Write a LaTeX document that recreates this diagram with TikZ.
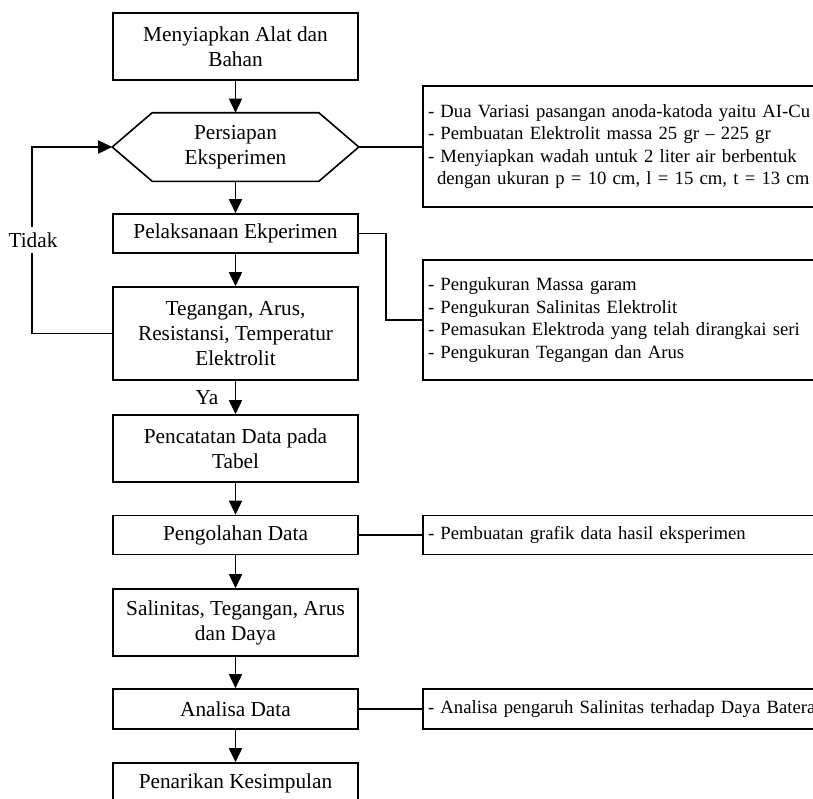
\documentclass[tikz,border=0pt]{standalone}
\usepackage{fontspec}
\setmainfont{Liberation Serif}
\usetikzlibrary{arrows.meta}
\begin{document}
\begin{tikzpicture}[x=1pt,y=-1pt,
  mainbox/.style={draw,line width=1.6pt,minimum width=245pt,inner sep=0pt,align=center,
    font=\fontsize{21.3}{25}\selectfont},
  sidebox/.style={draw,line width=1.6pt,inner xsep=5pt,inner ysep=0pt,text width=417pt,align=left,
    font=\fontsize{18.7}{22.5}\selectfont},
  flow/.style={line width=1.6pt,-{Triangle[length=14pt,width=13pt]}},
  link/.style={line width=1.6pt},
  lbl/.style={inner xsep=1pt,inner ysep=0pt,font=\fontsize{21.3}{25}\selectfont}]
\useasboundingbox (0,0) rectangle (813,798);
\clip (0,0) rectangle (813,798);
% main column
\node[mainbox,minimum height=67pt] (alat) at (235.5,46.5) {Menyiapkan Alat dan\\Bahan};
\node[mainbox,minimum height=67pt,draw=none] (hex) at (235.5,147) {Persiapan\\Eksperimen};
\draw[link,line join=miter] (hex.west) -- ([xshift=40pt]hex.north west) -- ([xshift=-40pt]hex.north east)
  -- (hex.east) -- ([xshift=-40pt]hex.south east) -- ([xshift=40pt]hex.south west) -- cycle;
\node[mainbox,minimum height=39pt] (pel) at (235.5,233.5) {Pelaksanaan Ekperimen};
\node[mainbox,minimum height=93pt] (teg) at (235.5,333.5) {Tegangan, Arus,\\Resistansi, Temperatur\\Elektrolit};
\node[mainbox,minimum height=67pt] (catat) at (235.5,448.5) {Pencatatan Data pada\\Tabel};
\node[mainbox,minimum height=39pt] (olah) at (235.5,535) {Pengolahan Data};
\node[mainbox,minimum height=67pt] (sal) at (235.5,622.5) {Salinitas, Tegangan, Arus\\dan Daya};
\node[mainbox,minimum height=40pt] (anal) at (235.5,709) {Analisa Data};
\node[mainbox,minimum height=40pt] (tarik) at (235.5,783) {Penarikan Kesimpulan};
% side boxes
\node[sidebox,minimum height=121pt] (s1) at (636.5,146.5) {- Dua Variasi pasangan anoda-katoda yaitu AI-Cu\\- Pembuatan Elektrolit massa 25 gr -- 225 gr\\- Menyiapkan wadah untuk 2 liter air berbentuk\\\hspace*{9pt}dengan ukuran p = 10 cm, l = 15 cm, t = 13 cm};
\node[sidebox,minimum height=120pt] (s2) at (636.5,320) {- Pengukuran Massa garam\\- Pengukuran Salinitas Elektrolit\\- Pemasukan Elektroda yang telah dirangkai seri\\- Pengukuran Tegangan dan Arus};
\node[sidebox,minimum height=39pt] (s3) at (636.5,535) {- Pembuatan grafik data hasil eksperimen};
\node[sidebox,minimum height=40pt] (s4) at (636.5,709) {- Analisa pengaruh Salinitas terhadap Daya Baterai};
% flow arrows
\draw[flow] (alat) -- (hex);
\draw[flow] (hex) -- (pel);
\draw[flow] (pel) -- (teg);
\draw[flow] (teg) -- (catat);
\draw[flow] (catat) -- (olah);
\draw[flow] (olah) -- (sal);
\draw[flow] (sal) -- (anal);
\draw[flow] (anal) -- (tarik);
% feedback loop
\draw[flow] (teg.west) -- ++(-80pt,0) coordinate (fb) |- (hex.west);
\node[lbl,fill=white,minimum height=26pt] (tidak) at (33,240) {Tidak};
\node[lbl] (ya) at (207,398) {Ya};
% side connectors
\draw[link] (hex.east) -- (hex.east -| s1.west);
\draw[link] (pel.east) -- ++(27pt,0) |- (s2.west);
\draw[link] (olah.east) -- (s3.west);
\draw[link] (anal.east) -- (s4.west);
\end{tikzpicture}
\end{document}
